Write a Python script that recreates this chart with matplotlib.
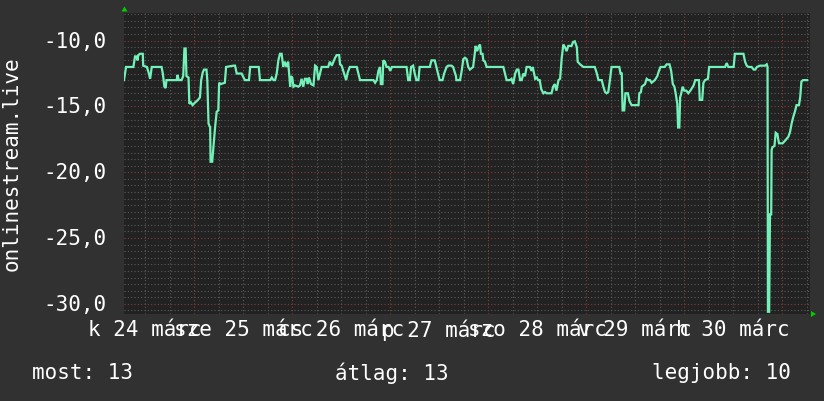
import matplotlib
matplotlib.use("Agg")
import matplotlib.pyplot as plt
from matplotlib.patches import Polygon
import numpy as np

# ---- data (hours since window start, value) ----
hours = [0.0, 0.5, 2.3, 2.7, 3.1, 3.3, 3.5, 3.9, 4.6, 4.7, 5.6, 6.0, 6.4, 6.8, 9.2, 9.5, 9.9, 10.2, 10.4,
         12.9, 13.1, 13.4, 14.1, 14.5, 14.8, 15.1, 15.3, 15.8, 16.0, 16.4, 16.8, 17.4, 17.8, 18.4, 18.6,
         18.9, 19.3, 19.6, 20.2, 20.4, 20.7, 21.1, 21.2, 21.6, 21.9, 22.3, 22.7, 23.1, 23.3, 23.7, 24.7,
         25.0, 26.8, 27.2, 27.6, 28.8, 29.6, 30.6, 30.9, 33.0, 33.3, 35.8, 36.2, 36.6, 37.0, 37.4, 37.8,
         38.2, 38.6, 39.0, 39.4, 39.8, 40.2, 40.7, 40.9, 41.2, 41.5, 41.9, 42.7, 43.1, 43.5, 43.9, 44.3,
         44.7, 45.0, 45.3, 45.8, 46.4, 46.8, 47.2, 47.6, 48.0, 48.4, 50.0, 50.4, 50.9, 51.7, 52.1, 52.7,
         52.9, 53.3, 53.7, 54.4, 54.8, 55.3, 57.0, 57.4, 57.8, 61.1, 61.5, 61.9, 62.3, 62.7, 62.9, 63.3,
         63.5, 63.9, 64.3, 64.8, 65.2, 65.6, 69.2, 69.6, 70.0, 70.3, 70.8, 71.2, 71.6, 72.1, 72.4, 74.9,
         75.3, 76.1, 76.5, 76.9, 77.3, 78.0, 78.4, 79.0, 79.4, 80.2, 80.6, 81.3, 81.4, 82.3, 82.7, 83.1,
         83.5, 83.9, 84.3, 84.7, 85.5, 85.9, 86.1, 86.5, 86.9, 87.2, 87.4, 87.8, 88.0, 88.4, 88.8, 92.9,
         93.3, 93.7, 94.5, 94.9, 95.3, 95.8, 96.2, 96.6, 97.0, 97.4, 97.8, 98.2, 98.6, 99.4, 99.8, 100.1,
         100.7, 101.1, 101.4, 101.8, 102.2, 102.7, 103.1, 103.5, 104.7, 105.1, 105.5, 105.9, 106.4, 106.8,
         107.2, 107.6, 108.0, 108.4, 108.8, 109.6, 110.0, 110.4, 110.9, 111.1, 111.7, 112.1, 112.5, 115.3,
         115.8, 116.2, 117.0, 117.4, 117.8, 118.2, 118.6, 119.0, 119.4, 121.3, 121.6, 121.9, 122.1, 122.5,
         122.8, 123.4, 123.8, 124.3, 126.0, 126.2, 126.6, 126.8, 127.6, 128.0, 128.4, 128.8, 129.2, 130.0,
         130.6, 131.0, 131.4, 132.4, 132.9, 133.6, 134.0, 134.4, 134.8, 135.1, 135.5, 135.7, 136.0, 136.2,
         136.4, 136.8, 137.2, 137.7, 138.2, 138.7, 139.5, 139.9, 140.8, 141.0, 141.6, 141.9, 142.3, 143.0,
         143.3, 147.2, 147.6, 148.0, 149.3, 149.6, 151.7, 152.1, 152.5, 152.9, 153.7, 154.2, 154.6, 155.0,
         155.8, 157.0, 157.4, 157.6, 157.7, 158.0, 158.2, 158.5, 158.6, 158.8, 159.3, 159.6, 160.0, 160.4,
         161.3, 161.9, 162.7, 163.1, 163.5, 163.9, 164.3, 164.7, 165.3, 165.6, 165.9, 166.3, 167.3]
values = [-13.0, -12.0, -12.0, -11.2, -11.2, -11.5, -11.1, -11.0, -11.0, -11.9, -12.0, -12.4, -12.9, -12.0,
          -12.0, -12.5, -13.5, -13.6, -13.0,
          -13.0, -12.6, -13.0, -13.0, -12.7, -10.6, -10.6, -12.7, -12.8, -14.8, -14.7, -14.9, -14.7, -14.6,
          -14.4, -14.3,
          -13.0, -12.4, -12.2, -12.2, -13.0, -16.3, -16.6, -19.2, -19.2, -18.1, -16.6, -15.4, -15.3, -13.2,
          -13.3, -13.2,
          -12.0, -11.9, -11.9, -12.5, -12.5, -13.0, -13.0, -12.0, -12.0, -13.0, -13.0, -12.8, -13.0, -13.0,
          -12.5, -11.5,
          -11.0, -11.0, -12.0, -11.6, -12.0, -11.6, -13.5, -12.7, -12.8, -13.5, -13.4, -13.5, -13.4, -12.9,
          -13.5, -12.9,
          -12.9, -13.3, -12.8, -13.3, -13.4, -11.9, -12.0, -13.0, -12.5, -12.0, -12.0, -11.6, -11.9, -11.3,
          -11.1, -11.1,
          -11.8, -11.9, -12.3, -13.0, -12.4, -12.0, -12.0, -12.5, -13.0, -13.0, -13.2, -13.0, -12.3, -12.0,
          -13.3, -13.3,
          -11.5, -11.6, -12.0, -12.0, -12.3, -12.0, -12.0, -13.0, -13.0, -12.0, -11.9, -12.5, -13.0, -13.0,
          -12.0, -12.0,
          -11.5, -11.5, -12.0, -12.5, -13.0, -13.0, -12.5, -12.0, -11.9, -11.9, -12.0, -12.7, -13.0, -13.0,
          -12.3, -11.4,
          -11.3, -11.4, -12.0, -12.2, -12.0, -11.0, -10.4, -10.8, -10.4, -10.3, -11.0, -11.0, -11.5, -11.6,
          -12.0, -12.0,
          -12.5, -13.0, -13.0, -12.9, -13.3, -12.5, -12.2, -12.2, -13.0, -13.0, -12.5, -12.7, -12.0, -12.0,
          -12.3, -12.0,
          -12.9, -12.8, -13.0, -13.0, -13.7, -14.0, -13.9, -14.0, -14.0, -13.5, -13.3, -13.8, -13.0, -12.9,
          -11.3, -10.3, -10.5, -10.8, -10.4, -10.4, -10.1, -10.05, -10.5, -11.6, -11.8, -11.9, -12.0, -12.0,
          -12.5, -13.0, -13.0, -13.5, -13.9, -14.0, -13.9, -13.0, -12.0, -12.0, -12.5, -12.5, -15.3, -15.3,
          -14.0, -14.0, -14.6, -14.9, -14.9, -14.0, -13.9, -13.5, -13.3, -12.9, -13.0, -13.0, -13.2, -13.0,
          -12.7, -12.3, -12.0, -12.0, -11.8, -11.8, -12.3, -13.3, -13.5, -14.0, -14.8, -16.6, -16.6, -14.3,
          -14.1, -13.5, -13.8, -13.8, -14.0, -13.8, -13.4, -13.0, -13.0, -14.5, -14.5, -13.2, -13.0, -12.9,
          -12.0, -12.0, -11.7, -12.0, -12.0, -11.0, -11.0, -11.6, -11.9, -12.0, -12.0, -12.2, -12.2, -12.0,
          -11.9, -11.9, -11.8, -12.0, -30.6, -30.6, -23.2, -23.2, -18.3, -18.1, -18.0, -17.0, -17.1, -17.8,
          -17.8, -17.6, -17.3, -16.95, -16.3, -15.8, -15.4, -14.9, -14.9, -14.3, -13.1, -13.0, -13.0]

day_labels = ["k 24 márc", "sze 25 márc", "cs 26 márc", "p 27 márc",
              "szo 28 márc", "v 29 márc", "h 30 márc"]
ytick_vals = [-30, -25, -20, -15, -10]
ylabel = "onlinestream.live"
legend_items = ["most: 13", "átlag: 13", "legjobb: 10"]

# ---- layout ----
W, H = 824, 402
fig = plt.figure(figsize=(W / 100, H / 100), dpi=100)
fig.patch.set_facecolor("#313131")
L, R, T, B = 124, 810, 14, 315
ax = fig.add_axes([L / W, 1 - B / H, (R - L) / W, (B - T) / H])
ax.set_facecolor("#222222")
for s in ax.spines.values():
    s.set_visible(False)

x_max = 168.0
first_midnight = 17.2
ax.set_xlim(0, x_max)
ax.set_ylim(-30.77, -7.9)

minor_grid = dict(color="#5a5a5a", lw=0.8, ls=(0, (1, 2)), zorder=1)
major_grid = dict(color="#8a3a3a", lw=0.8, ls=(0, (1, 2)), zorder=1)

for yv in np.arange(-30.5, -7.9, 0.5):
    if abs(yv - round(yv / 5) * 5) < 1e-6:
        ax.axhline(yv, **major_grid)
    else:
        ax.axhline(yv, **minor_grid)

for k in range(-1, 8):
    for q in range(4):
        tv = first_midnight + 24 * k + 6 * q
        if 0 < tv < x_max:
            ax.axvline(tv, **(major_grid if q == 0 else minor_grid))

ax.plot(hours, values, color="#72f2b8", lw=1.6, zorder=3, solid_joinstyle="miter")

ax.set_xticks([])
ax.set_yticks([])

font = dict(family="DejaVu Sans Mono", size=15, color="#ffffff")

# y tick labels
for yv in ytick_vals:
    ax.annotate(f"{yv:.1f}".replace(".", ","), xy=(0, yv), xycoords=("axes fraction", "data"),
                xytext=(-17 * 0.72, 0), textcoords="offset points",
                ha="right", va="center", **font)

# x labels centred on noon of each day
for i, lab in enumerate(day_labels):
    ax.annotate(lab, xy=(first_midnight - 12 + 24 * i, 0), xycoords=("data", "axes fraction"),
                xytext=(0, -15 * 0.72), textcoords="offset points",
                ha="center", va="center", **font)

fig.text(12 / W, 1 - 164 / H, ylabel, rotation=90, ha="center", va="center", **font)

fig.text(32 / W, 1 - 373 / H, legend_items[0], ha="left", va="center", **font)
fig.text(392 / W, 1 - 373 / H, legend_items[1], ha="center", va="center", **font)
fig.text(791 / W, 1 - 373 / H, legend_items[2], ha="right", va="center", **font)

# arrows
def px(x, y):
    return (x / W, 1 - y / H)

fig.patches.append(Polygon([px(121.5, 12.5), px(127.5, 12.5), px(124.5, 7.5)], closed=True,
                           facecolor="#00cc00", edgecolor="none", transform=fig.transFigure, figure=fig))
fig.patches.append(Polygon([px(811, 312), px(811, 318), px(816, 315)], closed=True,
                           facecolor="#00cc00", edgecolor="none", transform=fig.transFigure, figure=fig))

fig.savefig("out.png", dpi=100, facecolor=fig.get_facecolor())
